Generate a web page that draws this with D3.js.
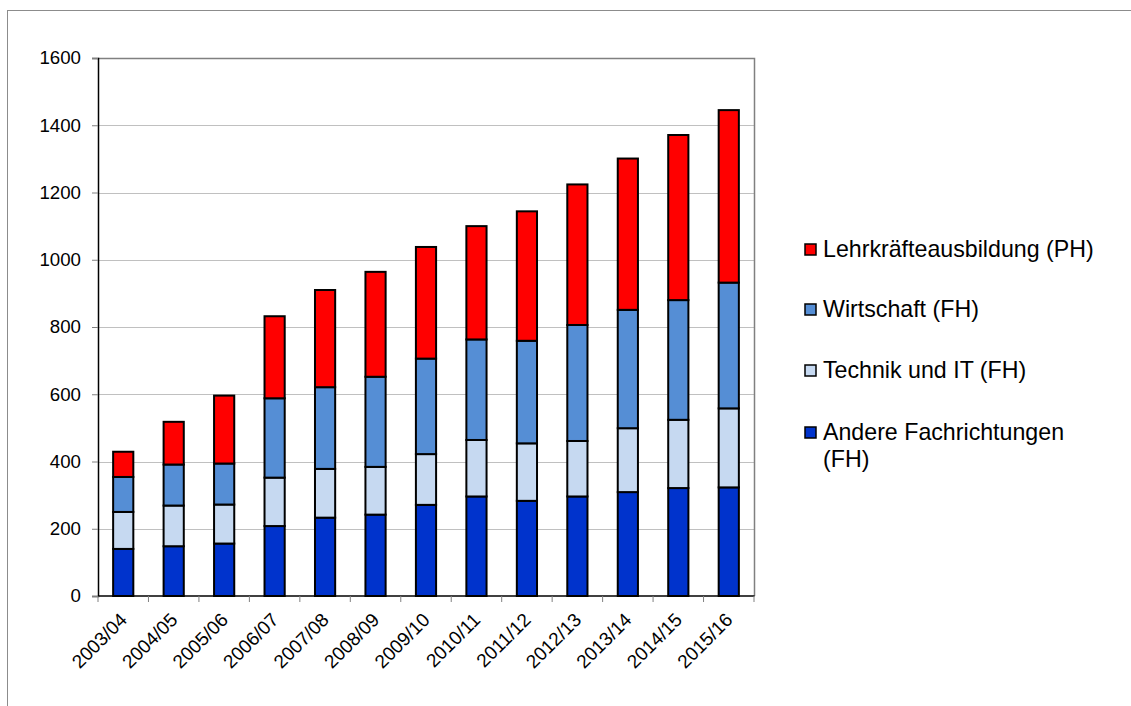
<!DOCTYPE html>
<html>
<head>
<meta charset="utf-8">
<script src="https://cdn.jsdelivr.net/npm/d3@7"></script>
<style>
  html, body { margin: 0; padding: 0; background: #fff; }
  svg { display: block; font-family: "Liberation Sans", Arial, sans-serif; }
</style>
</head>
<body>
<svg id="chart" width="1131" height="706"></svg>
<script>
// ---- data ----
const categories = ["2003/04","2004/05","2005/06","2006/07","2007/08","2008/09","2009/10","2010/11","2011/12","2012/13","2013/14","2014/15","2015/16"];
const andere      = [140, 148, 156, 208, 233, 242, 271, 296, 283, 296, 309, 321, 323];
const technik     = [110, 121, 116, 144, 145, 142, 151, 168, 171, 165, 190, 203, 235];
const wirtschaft  = [104, 122, 122, 236, 243, 268, 284, 299, 305, 345, 352, 356, 374];
const lehrkraefte = [ 75, 127, 202, 244, 289, 312, 332, 337, 385, 418, 450, 491, 513];
const seriesNames = ["Andere Fachrichtungen (FH)", "Technik und IT (FH)", "Wirtschaft (FH)", "Lehrkräfteausbildung (PH)"];
const seriesColors = ["#0033CC", "#C6D9F1", "#558ED5", "#FF0000"];
const yTicks = [0, 200, 400, 600, 800, 1000, 1200, 1400, 1600];

// ---- build table ----
const keys = ["andere", "technik", "wirtschaft", "lehrkraefte"];
const table = categories.map((c, i) => ({
  cat: c, andere: andere[i], technik: technik[i], wirtschaft: wirtschaft[i], lehrkraefte: lehrkraefte[i]
}));
const stacked = d3.stack().keys(keys)(table);

const svg = d3.select("#chart");

// outer frame (only left/top visible)
svg.append("rect")
  .attr("x", 7.5).attr("y", 10.5).attr("width", 1300).attr("height", 900)
  .attr("fill", "none").attr("stroke", "#8c8c8c").attr("stroke-width", 1);

const plot = { left: 98, right: 754, top: 58, bottom: 596 };

const x = d3.scaleBand().domain(categories).range([plot.left, plot.right]).padding(0);
const y = d3.scaleLinear().domain([0, 1600]).range([plot.bottom, plot.top]);

// gridlines
svg.append("g").selectAll("line").data(yTicks.filter(t => t > 0 && t < 1600)).join("line")
  .attr("x1", plot.left).attr("x2", plot.right)
  .attr("y1", d => Math.round(y(d)) + 0.5).attr("y2", d => Math.round(y(d)) + 0.5)
  .attr("stroke", "#c0c0c0").attr("stroke-width", 1);

// plot area border top/right
svg.append("path")
  .attr("d", `M${plot.left},${plot.top + 0.5}H${plot.right + 0.5}V${plot.bottom}`)
  .attr("fill", "none").attr("stroke", "#808080").attr("stroke-width", 1.5);

// bars
const barW = x.bandwidth() * 0.4;
svg.append("g").selectAll("g").data(stacked).join("g")
  .attr("fill", (d, i) => seriesColors[i])
  .selectAll("rect").data(d => d).join("rect")
  .attr("x", d => x(d.data.cat) + (x.bandwidth() - barW) / 2)
  .attr("y", d => y(d[1]))
  .attr("width", barW)
  .attr("height", d => y(d[0]) - y(d[1]))
  .attr("stroke", "#000").attr("stroke-width", 2);

// y axis
const yAxis = d3.axisLeft(y).tickValues(yTicks).tickSize(6).tickPadding(11).tickFormat(d3.format("d"));
const gy = svg.append("g").attr("transform", `translate(${plot.left},0)`).call(yAxis);
gy.select(".domain").attr("stroke", "#000").attr("stroke-width", 1.5);
gy.selectAll(".tick line").attr("stroke", "#808080");
gy.selectAll(".tick text").attr("font-size", 18.7).attr("fill", "#000")
  .attr("font-family", "Liberation Sans, Arial, sans-serif");

// x axis line
svg.append("line")
  .attr("x1", plot.left).attr("x2", plot.right + 0.5)
  .attr("y1", plot.bottom).attr("y2", plot.bottom)
  .attr("stroke", "#000").attr("stroke-width", 1.5);

// x ticks at category boundaries
const bounds = categories.map(c => x(c)).concat([plot.right]);
svg.append("g").selectAll("line").data(bounds).join("line")
  .attr("x1", d => d).attr("x2", d => d)
  .attr("y1", plot.bottom).attr("y2", plot.bottom + 6)
  .attr("stroke", "#808080").attr("stroke-width", 1);

// x labels rotated
svg.append("g").selectAll("text").data(categories).join("text")
  .attr("transform", d => `translate(${x(d) + x.bandwidth() / 2 + 5},${plot.bottom + 25}) rotate(-45)`)
  .attr("text-anchor", "end")
  .attr("font-size", 19)
  .attr("fill", "#000")
  .text(d => d);

// legend (top-to-bottom reversed order)
const legendOrder = [3, 2, 1, 0];
const legendY = [257, 317, 378, 440];
const lg = svg.append("g");
legendOrder.forEach((si, row) => {
  const by = legendY[row];
  lg.append("rect")
    .attr("x", 805).attr("y", by - 13).attr("width", 11).attr("height", 11)
    .attr("fill", seriesColors[si]).attr("stroke", "#000").attr("stroke-width", 1.5);
  const t = lg.append("text").attr("x", 823).attr("y", by)
    .attr("font-size", 23.2).attr("fill", "#000");
  if (si === 0) {
    t.append("tspan").attr("x", 823).attr("dy", 0).text("Andere Fachrichtungen");
    t.append("tspan").attr("x", 823).attr("dy", 26.5).text("(FH)");
  } else {
    t.text(seriesNames[si]);
  }
});
</script>
</body>
</html>
